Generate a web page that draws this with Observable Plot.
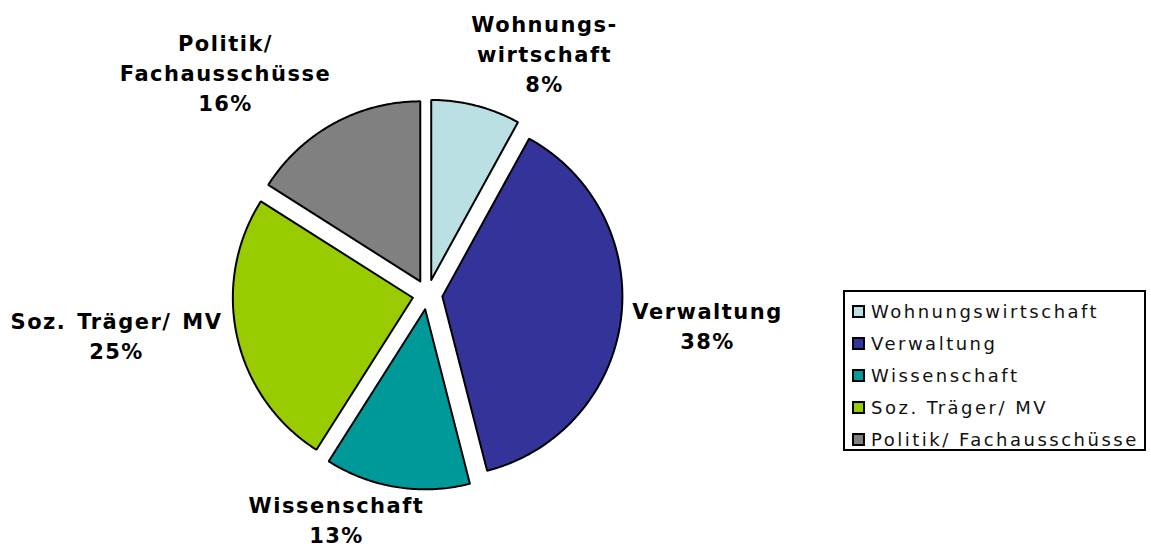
<!DOCTYPE html>
<html><head><meta charset="utf-8">
<script src="https://cdn.jsdelivr.net/npm/d3@7"></script>
<script src="https://cdn.jsdelivr.net/npm/@observablehq/plot@0.6"></script>
<style>
html,body{margin:0;padding:0;background:#fff;}
#wrap{position:relative;width:1151px;height:547px;font-family:"DejaVu Sans",Verdana,sans-serif;}
#legend{position:absolute;left:843px;top:290px;width:299px;height:157px;border:2px solid #000;background:#fff;box-sizing:content-box;}
.item{position:absolute;left:7px;height:22px;display:flex;align-items:center;font-size:18px;color:#111;letter-spacing:2.5px;white-space:nowrap;}
.sw{width:9px;height:9px;border:2px solid #000;margin-right:6px;flex:none;}
</style></head>
<body><div id="wrap"><div id="legend"></div></div>
<script>
const categories = ["Wohnungswirtschaft","Verwaltung","Wissenschaft","Soz. Träger/ MV","Politik/ Fachausschüsse"];
const labels = ["Wohnungs-\nwirtschaft","Verwaltung","Wissenschaft","Soz. Träger/ MV","Politik/\nFachausschüsse"];
const values = [8, 38, 13, 25, 16];
const colors = ["#BBE0E3","#333399","#009999","#99CC00","#808080"];

// layout
const W = 1151, H = 547, cx = 427, cy = 294, R = 180, explode = 15;
const labelOffsets = [[117,-242],[280,30],[-311,40],[-91,224],[-202,-223]];
const labelOrder = [0,1,3,2,4];

const total = d3.sum(values);
const pie = d3.pie().sort(null).value(d => d)(values);
const pts = [];
pie.forEach((p, i) => {
  const a0 = p.startAngle, a1 = p.endAngle, am = (a0 + a1) / 2;
  const ox = explode * Math.sin(am), oy = explode * Math.cos(am);
  const name = categories[i];
  pts.push({name, x: ox, y: oy});
  const n = Math.max(4, Math.ceil((a1 - a0) / 0.01));
  for (let k = 0; k <= n; k++) {
    const a = a0 + (a1 - a0) * k / n;
    pts.push({name, x: ox + R * Math.sin(a), y: oy + R * Math.cos(a)});
  }
  pts.push({name, x: ox, y: oy});
});
const offsetFor = i => labelOffsets[labelOrder[i]];
const lab = categories.map((c, i) => ({
  text: labels[i] + "\n" + Math.round(values[i] / total * 100) + "%",
  x: offsetFor(i)[0], y: -offsetFor(i)[1]
}));

const chart = Plot.plot({
  width: W, height: H, margin: 0,
  x: {domain: [-cx, W - cx], axis: null},
  y: {domain: [-(H - cy), cy], axis: null},
  color: {domain: categories, range: colors},
  marks: [
    Plot.line(pts, {x: "x", y: "y", z: "name", fill: "name", stroke: "#000", strokeWidth: 2, strokeLinejoin: "miter", curve: "linear"}),
    Plot.text(lab, {x: "x", y: "y", text: "text", fontSize: 21, fontWeight: "bold", lineHeight: 1.42, fill: "#000", fontFamily: "DejaVu Sans, Verdana, sans-serif"})
  ]
});
chart.style.position = "absolute"; chart.style.left = "0"; chart.style.top = "0";
chart.querySelectorAll("text").forEach(t => { t.style.letterSpacing = "1.5px"; t.style.wordSpacing = "2px"; });
const wrap = document.getElementById("wrap");
wrap.insertBefore(chart, wrap.firstChild);

const legend = document.getElementById("legend");
categories.forEach((c, i) => {
  const d = document.createElement("div");
  d.className = "item";
  d.style.top = (8 + i * 32) + "px";
  d.innerHTML = `<span class="sw" style="background:${colors[i]}"></span>${c}`;
  legend.appendChild(d);
});
</script></body></html>
